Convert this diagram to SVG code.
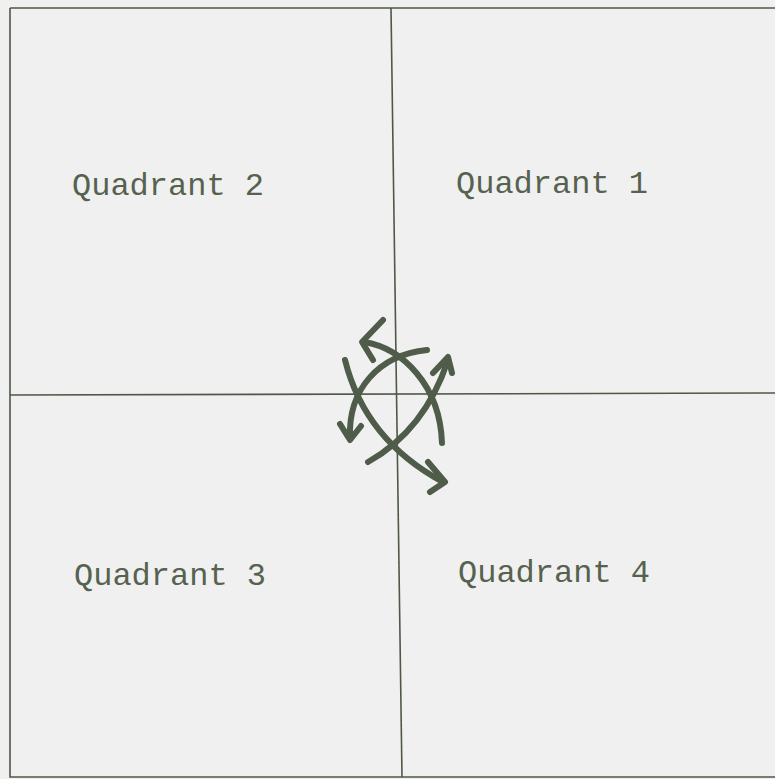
<svg xmlns="http://www.w3.org/2000/svg" width="775" height="779" viewBox="0 0 775 779">
<style>
.ln{stroke:#4d5846;stroke-width:1.6;fill:none}
.ar{stroke:#505c4a;stroke-width:6;fill:none;stroke-linecap:round;stroke-linejoin:round}
.t{font-family:"Liberation Mono","Courier New",monospace;font-size:32px;fill:#56624f}
</style>
<rect width="775" height="779" fill="#f0f0f0"/>
<g id="frame">
<path class="ln" d="M10,8 L775,8 M10,8 L10,777 L775,777"/>
<path class="ln" d="M391,8 L402,777"/>
<path class="ln" d="M10,395 L775,393"/>
</g>
<g id="q1"><text class="t" x="456" y="193">Quadrant 1</text></g>
<g id="q2"><text class="t" x="72" y="195">Quadrant 2</text></g>
<g id="q3"><text class="t" x="74" y="585">Quadrant 3</text></g>
<g id="q4"><text class="t" x="458" y="582">Quadrant 4</text></g>
<g id="connectors">
<path class="ar" d="M364,342 C402,348 440,385 442,443"/>
<polyline class="ar" points="383,320 362,342 373,360"/>
<path class="ar" d="M427,350 C378,355 348,390 350,438"/>
<polyline class="ar" points="340,424 350,440 361,426"/>
<path class="ar" d="M345,360 Q365,440 443,482"/>
<polyline class="ar" points="428,462 445,482 430,492"/>
<path class="ar" d="M368,462 Q425,430 448,360"/>
<polyline class="ar" points="433,373 448,357 452,373"/>
</g>
</svg>
